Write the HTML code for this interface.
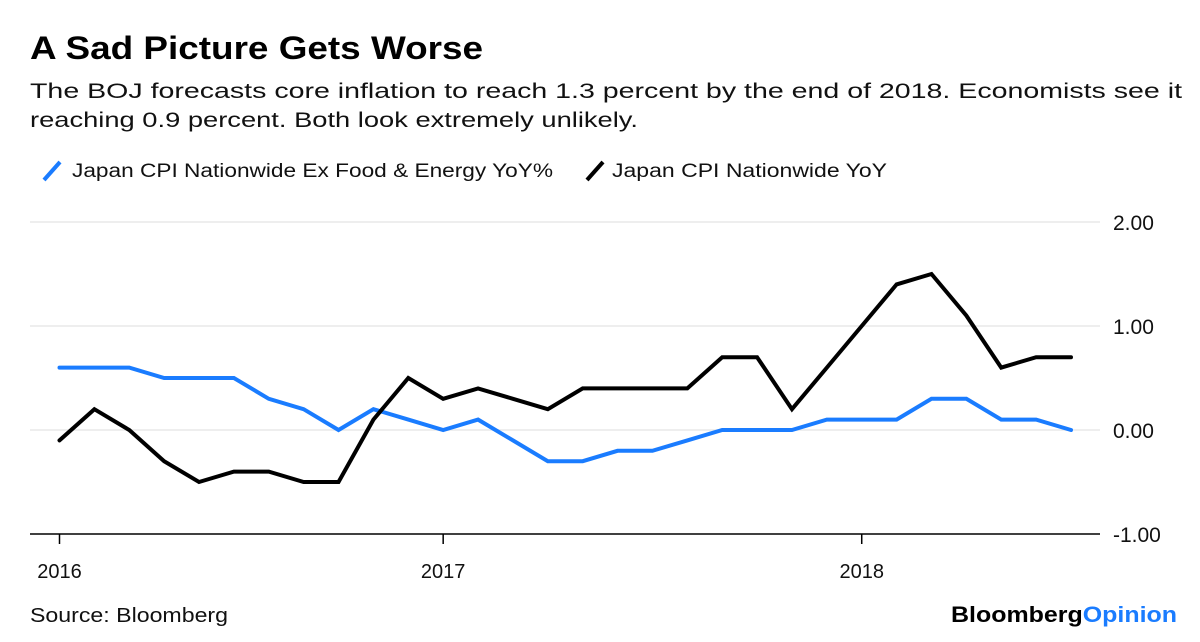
<!DOCTYPE html>
<html><head><meta charset="utf-8"><style>
body{margin:0;background:#fff;}
svg{display:block;font-family:"Liberation Sans",sans-serif;}
</style></head><body>
<svg width="1200" height="642" viewBox="0 0 1200 642">
<text x="30" y="59" font-size="32" font-weight="bold" fill="#000" textLength="453" lengthAdjust="spacingAndGlyphs">A Sad Picture Gets Worse</text>
<text x="30" y="98" font-size="21" fill="#111" textLength="1152" lengthAdjust="spacingAndGlyphs">The BOJ forecasts core inflation to reach 1.3 percent by the end of 2018. Economists see it</text>
<text x="30" y="127" font-size="21" fill="#111" textLength="608" lengthAdjust="spacingAndGlyphs">reaching 0.9 percent. Both look extremely unlikely.</text>
<g>
<line x1="44" y1="180" x2="60" y2="162" stroke="#1a7cff" stroke-width="4"/>
<text x="72" y="177" font-size="19" fill="#111" textLength="481" lengthAdjust="spacingAndGlyphs">Japan CPI Nationwide Ex Food &amp; Energy YoY%</text>
<line x1="587" y1="180" x2="603" y2="162" stroke="#000" stroke-width="4"/>
<text x="612" y="177" font-size="19" fill="#111" textLength="275" lengthAdjust="spacingAndGlyphs">Japan CPI Nationwide YoY</text>
</g>
<g id="plot"></g>
<text x="30" y="622" font-size="20" fill="#111" textLength="198" lengthAdjust="spacingAndGlyphs">Source: Bloomberg</text>
<text x="1177" y="622" font-size="22" font-weight="bold" text-anchor="end" textLength="226" lengthAdjust="spacingAndGlyphs"><tspan fill="#000">Bloomberg</tspan><tspan fill="#1a7cff">Opinion</tspan></text>
</svg>
<script>
const yTicks=[2,1,0,-1];
const yTickLabels=["2.00","1.00","0.00","-1.00"];
const xTickIdx=[0,11,23];
const xTickLabels=["2016","2017","2018"];
const coreSeries=[0.6,0.6,0.6,0.5,0.5,0.5,0.3,0.2,0,0.2,0.1,0,0.1,-0.1,-0.3,-0.3,-0.2,-0.2,-0.1,0,0,0,0.1,0.1,0.1,0.3,0.3,0.1,0.1,0];
const headlineSeries=[-0.1,0.2,0,-0.3,-0.5,-0.4,-0.4,-0.5,-0.5,0.1,0.5,0.3,0.4,0.3,0.2,0.4,0.4,0.4,0.4,0.7,0.7,0.2,0.6,1.0,1.4,1.5,1.1,0.6,0.7,0.7];
const NS="http://www.w3.org/2000/svg";
const g=document.getElementById('plot');
const x=i=>59.5+i*(1071-59.5)/29;
const y=v=>430-v*104;
function mk(t,a){const e=document.createElementNS(NS,t);for(const k in a)e.setAttribute(k,a[k]);g.appendChild(e);return e;}
yTicks.forEach((v,i)=>{
  if(v!==-1){const l=mk('line',{x1:30,x2:1100,y1:y(v),y2:y(v),stroke:'#e8e8e8','stroke-width':1.5});
  
  }
  const t=mk('text',{x:1113,y:y(v)+8,'font-size':21,fill:'#111'});
  t.textContent=yTickLabels[i];
  
  
});
const ax=mk('line',{x1:30,x2:1100,y1:y(-1),y2:y(-1),stroke:'#000','stroke-width':1.5});


xTickIdx.forEach((ix,i)=>{
  const tk=mk('line',{x1:x(ix),x2:x(ix),y1:y(-1),y2:y(-1)+10,stroke:'#000','stroke-width':1.5});
  
  
  const t=mk('text',{x:x(ix),y:578,'font-size':20,fill:'#111','text-anchor':'middle'});
  t.textContent=xTickLabels[i];
  
  
});
function line(data,color,name){
  const p=mk('polyline',{points:data.map((v,i)=>x(i)+','+y(v)).join(' '),fill:'none',stroke:color,'stroke-width':4,'stroke-linejoin':'miter','stroke-linecap':'round'});
  
  
}
line(coreSeries,'#1a7cff','core-cpi-line');
line(headlineSeries,'#000','headline-cpi-line');
</script>
</body></html>
